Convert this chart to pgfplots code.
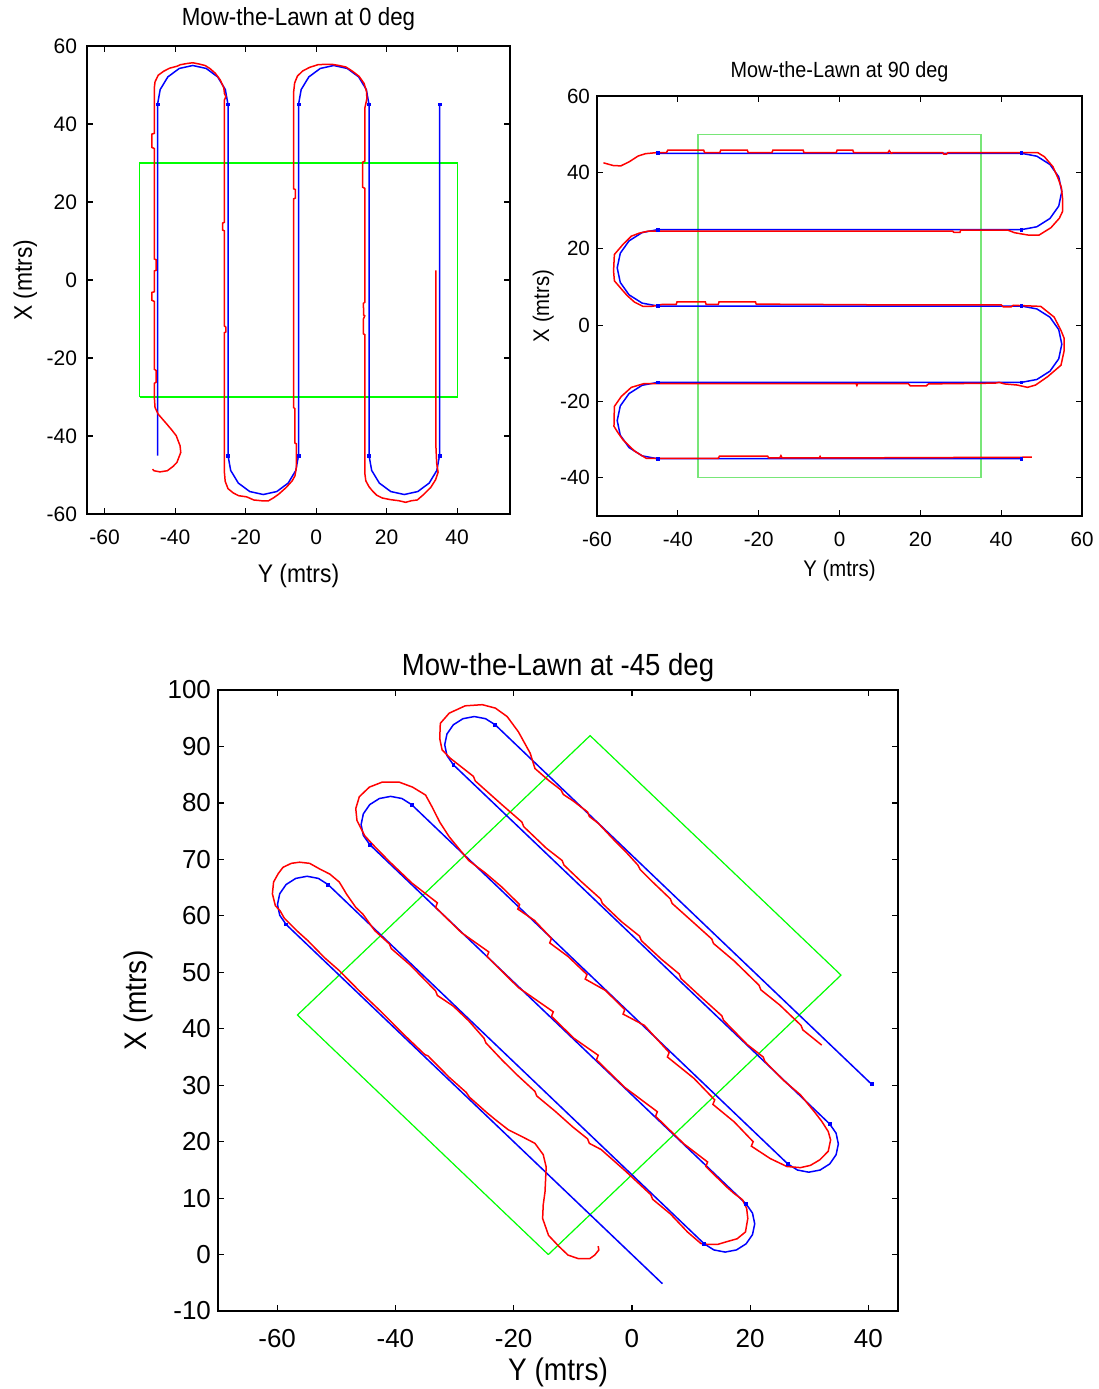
\documentclass[border=0pt]{standalone}
\usepackage{pgfplots}
\pgfplotsset{compat=1.18}
\usepackage{fontspec}
\setmainfont{Liberation Sans}
\newfontfamily\narrow{Liberation Sans}[FakeStretch=0.9]
\definecolor{mred}{rgb}{1,0,0}
\definecolor{mblue}{rgb}{0,0,1}
\definecolor{mgreen}{rgb}{0,1,0}
\definecolor{mgreenL}{RGB}{120,230,120}
\pgfplotsset{
  mstyle/.style={
    scale only axis,
    tick align=inside, tick pos=both,
    major tick length=3pt,
    axis line style={line width=0.7pt},
    every tick/.style={black, line width=0.6pt},
    /pgf/number format/assume math mode=true,
    title style={at={(axis description cs:0.5,1)}, anchor=base},
    xlabel style={at={(axis description cs:0.5,0)}, anchor=base},
    ylabel style={at={(axis description cs:0,0.5)}, anchor=base},
    xticklabel style={anchor=base},
  },
  blueline/.style={mblue, line width=0.75pt, no markers},
  redline/.style={mred, line width=0.75pt, no markers},
  bluemk/.style={only marks, mark=square*, mark size=0.7pt, mblue},
}
\begin{document}
\begin{tikzpicture}
\path[use as bounding box] (0,0) rectangle (549.5pt,-694.5pt);

% ---------------- 0 deg ----------------
\begin{axis}[mstyle,
  at={(43.5pt,-257pt)}, anchor=south west,
  width=211.5pt, height=234pt,
  xmin=-65, xmax=55, ymin=-60, ymax=60,
  xtick={-60,-40,...,40}, ytick={-60,-40,...,60},
  ticklabel style={font=\fontsize{10.5}{12}\selectfont},
  xticklabel style={yshift=-15.3pt},
  yticklabel style={xshift=-1.5pt},
  title={Mow-the-Lawn at 0 deg},
  title style={font=\narrow\fontsize{12.4}{14}\selectfont, yshift=4pt},
  xlabel={Y (mtrs)}, xlabel style={font=\narrow\fontsize{12.7}{14}\selectfont, yshift=-34pt},
  ylabel={X (mtrs)}, ylabel style={font=\narrow\fontsize{12.7}{14}\selectfont, yshift=27.5pt},
]
\addplot[mgreen, line width=0.6pt] coordinates {(-50,-30) (40,-30) (40,30) (-50,30) (-50,-30)};
\addplot[blueline] coordinates {
(-45,-45) (-45,45) (-44.24,48.83) (-42.07,52.07) (-38.83,54.24) (-35,55) (-31.17,54.24) (-27.93,52.07) (-25.76,48.83) (-25,45)
(-25,-45) (-24.24,-48.83) (-22.07,-52.07) (-18.83,-54.24) (-15,-55) (-11.17,-54.24) (-7.93,-52.07) (-5.76,-48.83) (-5,-45)
(-5,45) (-4.24,48.83) (-2.07,52.07) (1.17,54.24) (5,55) (8.83,54.24) (12.07,52.07) (14.24,48.83) (15,45)
(15,-45) (15.76,-48.83) (17.93,-52.07) (21.17,-54.24) (25,-55) (28.83,-54.24) (32.07,-52.07) (34.24,-48.83) (35,-45) (35,45)};
\addplot[bluemk] coordinates {(-45,45) (-25,45) (-5,45) (15,45) (35,45) (-25,-45) (-5,-45) (15,-45) (35,-45)};
\addplot[redline] coordinates {
(-46.4,-48.5) (-46.0,-48.9) (-44.3,-49.2) (-42.2,-48.9) (-40.6,-47.8) (-39.5,-46.8) (-38.4,-44.2) (-38.6,-42.5) (-39.7,-39.9) (-41.0,-38.4) (-42.4,-36.9) (-44.8,-34.4) (-45.7,-32.7) (-45.9,-30.0) (-45.9,-26.5) (-45.4,-26.2) (-45.4,-23.2) (-45.9,-22.9) (-45.9,-5.5) (-46.6,-5.2) (-46.6,-3.2) (-45.9,-3.0) (-45.9,2.3) (-45.4,2.5) (-45.4,5.2) (-45.9,5.4) (-45.9,33.7) (-46.6,34.0) (-46.6,37.4) (-45.9,37.6) (-45.9,49.3) (-45.7,50.8) (-44.8,52.5) (-43.3,53.5) (-41.6,54.3) (-39.5,54.8) (-38.5,55.2) (-36.7,55.5) (-35.0,55.7) (-33.3,55.4) (-31.5,55.0) (-30.1,54.2) (-28.6,53.0) (-27.2,51.3) (-26.2,49.3) (-26.0,47.8) (-25.6,47.0) (-26.0,46.2) (-26.0,14.8) (-26.5,14.6) (-26.5,12.8) (-26.0,12.6) (-26.0,-11.8) (-25.6,-12.1) (-25.6,-13.3) (-26.0,-13.5) (-26.0,-49.5) (-25.8,-51.6) (-25.0,-53.5) (-23.5,-54.6) (-22.0,-55.3) (-19.7,-55.6) (-17.7,-56.4) (-15.5,-56.6) (-13.5,-56.6) (-12.0,-55.8) (-10.6,-54.9) (-8.5,-53.2) (-6.8,-51.5) (-6.0,-50.2) (-5.6,-48.0) (-5.6,-42.0) (-6.0,-41.8) (-6.0,-33.0) (-6.4,-32.7) (-6.4,20.8) (-5.9,21.0) (-5.9,23.2) (-6.4,23.4) (-6.4,48.0) (-6.1,50.5) (-5.3,52.3) (-3.8,53.6) (-1.9,54.5) (0.5,55.2) (2.5,55.3) (4.5,55.3) (6.5,55.0) (8.5,54.6) (10.5,53.4) (12.2,52.2) (13.6,50.4) (14.3,48.3) (14.4,46.5) (13.8,44.0) (13.8,30.5) (13.2,30.2) (13.2,23.8) (13.8,23.5) (13.8,-5.7) (13.4,-6.0) (13.5,-9.0) (13.8,-9.2) (13.4,-10.0) (13.4,-13.8) (13.8,-14.0) (13.8,-49.5) (14.1,-51.5) (15.0,-53.0) (15.9,-54.0) (17.2,-55.2) (18.8,-55.9) (21.0,-56.3) (23.5,-56.6) (25.4,-57.0) (27.0,-56.6) (28.7,-56.4) (30.5,-55.0) (32.5,-53.2) (33.9,-51.2) (34.6,-49.3) (34.2,-47.0) (34.0,-43.0) (34.0,2.5)};
\end{axis}

% ---------------- 90 deg ----------------
\begin{axis}[mstyle,
  at={(298.5pt,-258pt)}, anchor=south west,
  width=242.5pt, height=210pt,
  xmin=-60, xmax=60, ymin=-50, ymax=60,
  xtick={-60,-40,...,60}, ytick={-40,-20,...,60},
  ticklabel style={font=\fontsize{10.3}{12}\selectfont},
  xticklabel style={yshift=-15pt},
  title={Mow-the-Lawn at 90 deg},
  title style={font=\narrow\fontsize{11}{13}\selectfont, yshift=3.5pt},
  xlabel={Y (mtrs)}, xlabel style={font=\narrow\fontsize{11.3}{13}\selectfont, yshift=-30pt},
  ylabel={X (mtrs)}, ylabel style={font=\narrow\fontsize{11.3}{13}\selectfont, yshift=24pt},
]
\addplot[mgreenL, line width=0.6pt] coordinates {(-35,-40) (35,-40) (35,50) (-35,50) (-35,-40)};
\addplot[blueline] coordinates {
(-45,45) (45,45) (48.83,44.24) (52.07,42.07) (54.24,38.83) (55,35) (54.24,31.17) (52.07,27.93) (48.83,25.76) (45,25)
(-45,25) (-48.83,24.24) (-52.07,22.07) (-54.24,18.83) (-55,15) (-54.24,11.17) (-52.07,7.93) (-48.83,5.76) (-45,5)
(45,5) (48.83,4.24) (52.07,2.07) (54.24,-1.17) (55,-5) (54.24,-8.83) (52.07,-12.07) (48.83,-14.24) (45,-15)
(-45,-15) (-48.83,-15.76) (-52.07,-17.93) (-54.24,-21.17) (-55,-25) (-54.24,-28.83) (-52.07,-32.07) (-48.83,-34.24) (-45,-35) (45,-35)};
\addplot[bluemk] coordinates {(-45,45) (45,45) (45,25) (-45,25) (-45,5) (45,5) (45,-15) (-45,-15) (-45,-35) (45,-35)};
\addplot[redline] coordinates {
(-58.4,42.5) (-56.0,41.8) (-54.1,41.7) (-52.0,42.8) (-49.8,44.3) (-48.0,44.9) (-45.0,45.2) (-42.8,45.2) (-42.5,45.8) (-33.6,45.8) (-33.4,45.2) (-29.6,45.2) (-29.4,45.8) (-22.8,45.8) (-22.6,45.2) (-16.7,45.2) (-16.5,45.8) (-9.0,45.8) (-8.8,45.2) (-0.8,45.2) (-0.6,45.8) (3.3,45.8) (3.5,45.2) (12.0,45.2) (12.3,45.7) (12.8,45.0) (13.2,45.2) (25.5,45.2) (25.8,44.8) (26.5,44.8) (26.8,45.2) (49.0,45.2) (50.7,44.1) (52.8,41.5) (54.1,38.4) (54.9,36.0) (55.2,33.0) (55.2,29.8) (54.4,28.0) (52.3,25.5) (49.4,23.6) (46.6,23.6) (43.3,24.2) (41.6,24.9) (30.0,24.9) (29.8,24.3) (28.3,24.3) (28.0,24.6) (-47.4,24.6) (-49.5,24.1) (-51.5,23.3) (-53.6,21.1) (-55.7,18.5) (-55.9,14.2) (-55.7,11.6) (-54.0,9.5) (-52.5,7.7) (-50.7,6.0) (-48.6,4.9) (-46.5,4.9) (-44.0,5.4) (-40.4,5.4) (-40.2,6.1) (-33.2,6.1) (-33.0,5.4) (-30.0,5.4) (-29.8,6.1) (-20.8,6.1) (-20.6,5.5) (12.0,5.3) (40.0,5.3) (40.5,4.8) (42.5,4.8) (43.0,5.2) (49.8,4.9) (53.1,2.1) (54.8,-1.4) (55.6,-3.5) (55.6,-6.6) (54.8,-10.5) (51.5,-13.5) (48.5,-15.7) (46.5,-16.3) (44.0,-15.7) (40.8,-15.4) (39.5,-15.0) (38.5,-15.2) (22.0,-15.4) (21.5,-15.9) (17.5,-15.9) (17.0,-15.3) (4.5,-15.3) (4.3,-15.8) (4.1,-15.3) (-48.3,-15.3) (-51.5,-16.3) (-54.0,-18.7) (-55.7,-21.3) (-55.8,-26.5) (-54.8,-28.2) (-53.6,-30.0) (-50.7,-33.0) (-47.8,-34.9) (-30.0,-34.9) (-29.7,-34.3) (-17.8,-34.3) (-17.5,-34.8) (-14.8,-34.8) (-14.5,-34.2) (-14.2,-34.8) (-5.0,-34.8) (-4.8,-34.4) (-4.6,-34.8) (47.6,-34.6)};
\end{axis}

% ---------------- -45 deg ----------------
\begin{axis}[mstyle,
  at={(109pt,-655.5pt)}, anchor=south west,
  width=340pt, height=310.5pt,
  xmin=-70, xmax=45, ymin=-10, ymax=100,
  xtick={-60,-40,...,40}, ytick={-10,0,...,100},
  ticklabel style={font=\fontsize{13}{15}\selectfont},
  xticklabel style={yshift=-18pt},
  title={Mow-the-Lawn at -45 deg},
  title style={font=\narrow\fontsize{15.3}{17}\selectfont, yshift=1.5pt},
  xlabel={Y (mtrs)}, xlabel style={font=\narrow\fontsize{15.6}{17}\selectfont, yshift=-34.5pt},
  ylabel={X (mtrs)}, ylabel style={font=\narrow\fontsize{15.6}{17}\selectfont, yshift=36pt},
]
\addplot[mgreen, line width=0.6pt] coordinates {(-14.14,0) (35.36,49.5) (-7.07,91.92) (-56.57,42.43) (-14.14,0)};
\addplot[blueline] coordinates {
(5.16,-5.16) (-58.48,58.47) (-59.56,60.10) (-59.94,62.01) (-59.56,63.92) (-58.48,65.55) (-56.85,66.63) (-54.94,67.01) (-53.03,66.63) (-51.40,65.55)
(12.23,1.90) (13.86,0.82) (15.77,0.44) (17.68,0.82) (19.31,1.90) (20.39,3.53) (20.77,5.44) (20.39,7.35) (19.31,8.98)
(-44.34,72.62) (-45.42,74.25) (-45.80,76.16) (-45.42,78.07) (-44.34,79.70) (-42.71,80.78) (-40.80,81.16) (-38.89,80.78) (-37.26,79.70)
(26.37,16.05) (28.00,14.97) (29.91,14.59) (31.82,14.97) (33.45,16.05) (34.53,17.68) (34.91,19.59) (34.53,21.50) (33.45,23.13)
(-30.20,86.76) (-31.28,88.39) (-31.66,90.30) (-31.28,92.21) (-30.20,93.84) (-28.57,94.92) (-26.66,95.30) (-24.75,94.92) (-23.12,93.84) (40.52,30.19)};
\addplot[bluemk] coordinates {(-58.48,58.47) (-51.40,65.55) (12.23,1.90) (19.31,8.98) (-44.34,72.62) (-37.26,79.70) (26.37,16.05) (33.45,23.13) (-30.20,86.76) (-23.12,93.84) (40.52,30.19)};
\addplot[redline] coordinates {
(-5.7,1.5) (-5.6,0.8) (-6.3,-0.1) (-7.1,-0.7) (-9.1,-0.7) (-10.8,-0.1) (-12.4,1.5) (-14.1,3.4) (-14.7,5.2) (-15.1,6.4) (-15.0,8.8) (-14.7,11.1) (-14.5,15.5) (-15.0,17.7) (-16.4,19.7) (-18.6,20.9) (-20.9,22.1) (-23.1,23.9) (-24.6,25.2) (-27.5,27.9) (-28.0,28.7) (-30.9,31.4) (-34.5,35.2) (-35.0,35.4) (-38.8,39.2) (-42.3,42.9) (-46.1,46.7) (-49.5,50.3) (-52.0,52.6) (-54.8,55.6) (-56.5,57.2) (-58.8,59.6) (-59.5,60.9) (-60.3,61.8) (-60.8,63.9) (-60.6,66.0) (-59.8,67.5) (-59.0,68.6) (-57.6,69.3) (-56.2,69.5) (-54.5,69.3) (-52.8,68.3) (-51.1,67.4) (-49.5,66.0) (-48.8,64.8) (-48.3,63.9) (-46.7,61.5) (-45.5,60.3)
(-43.5,57.4) (-41.0,55.0) (-40.7,54.2) (-37.5,51.3) (-33.2,46.7) (-32.9,45.9) (-30.2,44.0) (-27.6,41.4) (-25.0,38.3) (-24.7,37.5) (-22.0,34.5) (-19.5,31.9) (-16.4,28.9) (-16.1,28.1) (-13.0,25.4) (-10.0,22.6) (-7.5,20.5) (-7.2,19.7) (-5.2,18.6) (-1.0,14.7) (3.2,10.6) (3.5,9.8) (6.5,7.2) (9.4,4.0)
(11.66,1.96) (12.8,1.8) (14.5,1.8) (16.1,2.3) (17.8,2.8) (19.2,4.0) (19.6,6.4) (19.4,8.2) (18.7,9.7) (17.3,10.8) (16.1,11.9)
(12.5,15.6) (12.8,16.4) (8.8,19.6) (4.0,24.5) (4.3,25.3) (-1.2,29.6) (-6.0,34.5) (-5.7,35.3) (-9.8,38.3) (-13.6,42.2) (-13.3,43.0) (-19.2,47.3) (-24.5,52.8) (-24.2,53.6) (-28.8,57.0) (-33.2,61.5) (-32.9,62.3) (-37.2,65.8) (-41.0,69.6) (-43.8,72.6)
(-45.2,74.2) (-46.5,76.9) (-46.7,79.0) (-46.1,81.1) (-44.4,82.8) (-42.2,83.7) (-39.4,83.7) (-37.1,82.8) (-34.9,81.4) (-33.8,79.3) (-32.5,76.6) (-30.9,74.0)
(-27.6,69.8) (-24.8,67.6) (-22.0,65.1) (-19.0,62.0) (-19.3,61.2) (-16.5,59.2) (-13.6,56.0) (-13.9,55.2) (-10.8,52.8) (-7.6,49.6) (-7.9,48.8) (-4.5,46.8) (-1.2,43.4) (-1.5,42.6) (2.1,40.6) (6.3,35.8) (6.0,35.0) (10.5,31.2) (14.0,27.4) (13.7,26.6) (17.3,23.5) (20.5,20.0) (20.2,19.2) (23.4,17.0)
(26.2,15.6) (28.5,15.4) (30.2,15.8) (31.8,16.8) (33.2,18.3) (33.6,20.3) (33.2,21.8) (32.1,23.6) (31.0,25.1) (28.5,28.3)
(25.7,30.8) (22.5,34.2) (22.2,35.0) (19.5,37.2) (15.5,41.5) (15.2,42.3) (11.7,45.6) (8.3,48.9) (8.0,49.7) (5.0,52.3) (1.6,55.6) (1.3,56.4) (-1.8,59.0) (-5.0,62.2) (-5.3,63.0) (-8.5,66.0) (-11.5,69.0) (-11.8,69.8) (-14.5,72.0) (-18.3,75.8) (-18.6,76.6) (-22.0,79.7) (-26.5,83.9) (-26.8,84.7) (-30.7,87.9)
(-32.1,89.4) (-32.5,91.4) (-32.4,94.1) (-30.9,95.9) (-28.2,97.2) (-25.3,97.4) (-23.1,96.8) (-21.1,95.3) (-19.2,92.6) (-17.2,88.8) (-16.4,86.1) (-14.1,84.0)
(-12.0,82.3) (-11.6,81.5) (-10.0,80.4) (-7.5,78.4) (-7.2,77.6) (-5.7,76.4) (-3.0,73.4) (-1.0,71.3) (1.0,69.0) (1.4,68.2) (3.2,66.3) (6.5,63.0) (6.8,62.2) (10.0,59.2) (13.5,55.9) (13.8,55.1) (17.3,52.0) (21.5,47.7) (21.8,46.9) (25.0,44.2) (28.6,40.6) (28.9,39.8) (32.1,37.1)};
\end{axis}
\end{tikzpicture}
\end{document}
